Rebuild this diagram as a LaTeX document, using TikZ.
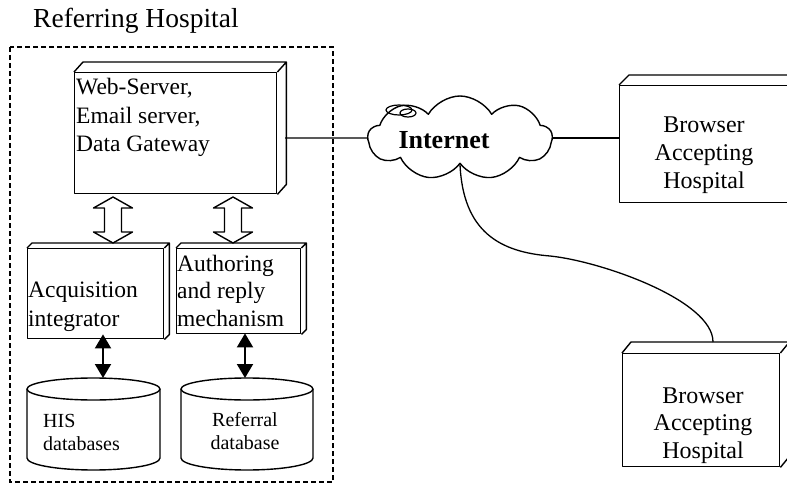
\documentclass[tikz,border=0pt]{standalone}
\usepackage{fontspec}
\setmainfont{Liberation Serif}
\usetikzlibrary{arrows.meta,shapes.symbols}
\newcommand\drawdepth[3]{%
  \draw[ln] (#1.north west) -- ++(#2,-#3) -- ([shift={(#2,-#3)}]#1.north east)
    -- ([shift={(#2,-#3)}]#1.south east) -- (#1.south east)
    (#1.north east) -- ++(#2,-#3);}
\newcommand\hollowdbl[3]{%
  \draw[ln,fill=white] (#1,#2) -- ++(19.5,11) -- ++(-11,0) -- (#1+8.5,#3-11) -- ++(11,0)
    -- (#1,#3) -- ++(-19.5,-11) -- ++(11,0) -- (#1-8.5,#2+11) -- ++(-11,0) -- cycle;}
\begin{document}
\begin{tikzpicture}[x=1pt,y=-1pt,
  ln/.style={line width=1.4pt, line join=round},
  box/.style={draw, ln, rectangle, inner sep=0pt, anchor=north west},
  main/.style={font=\fontsize{23.5}{28.5}\selectfont, inner sep=0pt, align=left},
  small/.style={font=\fontsize{20}{23}\selectfont, inner sep=0pt},
  wire/.style={line width=1.3pt},
  sarr/.style={line width=2pt, {Triangle[width=16pt,length=14pt]}-{Triangle[width=16pt,length=14pt]}}]
\path[use as bounding box, clip] (0,0) rectangle (787,484);
% title
\node[font=\fontsize{27.5}{33}\selectfont, inner sep=0pt, anchor=base west] (title) at (33,28) {Referring Hospital};
% dashed frame
\draw[line width=1.3pt, dash pattern=on 5pt off 3pt] (10,47) rectangle (333,482);
% server
\node[box, minimum width=202pt, minimum height=121pt] (srv) at (74,72) {};
\drawdepth{srv}{9}{10}
\node[main, anchor=base west] (srvt) at (76,152) {Web-Server,\\Email server,\\Data Gateway};
% acquisition
\node[box, minimum width=136pt, minimum height=90pt] (acq) at (27,248) {};
\drawdepth{acq}{5}{5}
\node[main, anchor=base west] (acqt) at (28,326) {Acquisition\\integrator};
% authoring
\node[box, minimum width=124pt, minimum height=85pt] (aut) at (176,248) {};
\drawdepth{aut}{5}{5}
\node[main, anchor=base west, font=\fontsize{23.5}{27.5}\selectfont] (autt) at (177,326) {Authoring\\and reply\\mechanism};
% hollow arrows
\hollowdbl{113}{197}{243}
\hollowdbl{233}{197}{243}
% cylinders
\draw[ln] (27,389) -- (27,458) arc[start angle=180, end angle=0, x radius=66.5, y radius=12] -- (160,389);
\draw[ln] (93.5,389) ellipse[x radius=66.5, y radius=11];
\coordinate (histop) at (103,378);
\node[small, anchor=base west, align=left] (hist) at (43,450) {HIS\\databases};
\draw[ln] (181,389) -- (181,458) arc[start angle=180, end angle=0, x radius=66, y radius=12] -- (313,389);
\draw[ln] (247,389) ellipse[x radius=66, y radius=11];
\coordinate (reftop) at (245,378);
\node[small, anchor=base, align=center] (reft) at (245,449) {Referral\\database};
% solid arrows
\draw[sarr] (acq.south -| histop) ++(0,-5) -- (histop);
\draw[sarr] (aut.south -| reftop) ++(0,-1) -- (reftop);
% cloud
\node[cloud, draw, ln, cloud puffs=9, cloud puff arc=120, aspect=2.2,
      minimum width=184pt, minimum height=84pt, inner sep=0pt] (net) at (460,138) {};
\draw[line width=1.2pt] (399,110) ellipse[x radius=13, y radius=5];
\draw[line width=1.2pt] (408,113) ellipse[x radius=8, y radius=4];
\node[font=\fontsize{26}{30}\bfseries\selectfont, inner sep=0pt] (nett) at (444,140) {Internet};
% browser 1
\node[box, minimum width=200pt, minimum height=117pt] (br1) at (619,85) {};
\drawdepth{br1}{10}{10}
\node[main, anchor=base, align=center, font=\fontsize{24}{27.5}\selectfont] (br1t) at (704,188) {Browser\\Accepting\\Hospital};
% browser 2
\node[box, minimum width=157pt, minimum height=113pt] (br2) at (622,353) {};
\drawdepth{br2}{9}{11}
\node[main, anchor=base, align=center, font=\fontsize{24}{27.5}\selectfont] (br2t) at (703,458) {Browser\\Accepting\\Hospital};
% connectors
\coordinate (srvR) at (285,138);
\draw[wire] (srvR) -- (net.west);
\draw[wire] (net.east) -- (net.east -| br1.west);
\coordinate (br2top) at (713,342);
\draw[wire] (net.south) .. controls (463,232) and (500,252) .. (550,256)
   .. controls (600,261) and (713,300) .. (br2top);
\end{tikzpicture}
\end{document}
